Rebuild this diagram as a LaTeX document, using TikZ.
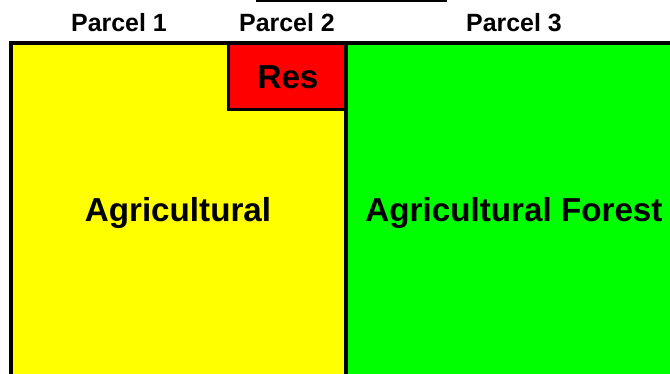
\documentclass[tikz,border=0pt]{standalone}
\usepackage{fontspec}
\setmainfont{Liberation Sans}
\usetikzlibrary{positioning}
\definecolor{agriyellow}{RGB}{255,255,0}
\definecolor{forestgreen}{RGB}{0,255,0}
\definecolor{resred}{RGB}{255,0,0}
\tikzset{
  parcellabel/.style={font=\fontsize{14.2}{17}\selectfont\bfseries},
  uselabel/.style={font=\fontsize{18.9}{22}\selectfont\bfseries},
  border/.style={line width=2pt}
}

\begin{document}
\begin{tikzpicture}[x=0.02cm,y=-0.02cm]
  \useasboundingbox (0,0) rectangle (670,373);
  % land use areas
  \fill[agriyellow] (11,43) rectangle (346,380);
  \fill[forestgreen] (346,43) rectangle (680,380);
  \fill[resred] (228.5,43) rectangle (346,109.5);
  % parcel borders
  \draw[border] (11,380) -- (11,43) -- (680,43);
  \draw[border] (228.5,43) -- (228.5,109.5) -- (346,109.5);
  \draw[border] (346,43) -- (346,380);
  \draw[line width=1.1pt] (256,1) -- (447,1);
  % labels
  \node[parcellabel] (p1) at (119,23) {Parcel 1};
  \node[parcellabel] (p2) at (287,23) {Parcel 2};
  \node[parcellabel] (p3) at (514,23) {Parcel 3};
  \node[uselabel] (res) at (288,77) {Res};
  \node[uselabel] (agri) at (178,213) {Agricultural};
  \node[uselabel] (agriforest) at (514,213) {Agricultural Forest};
\end{tikzpicture}
\end{document}
